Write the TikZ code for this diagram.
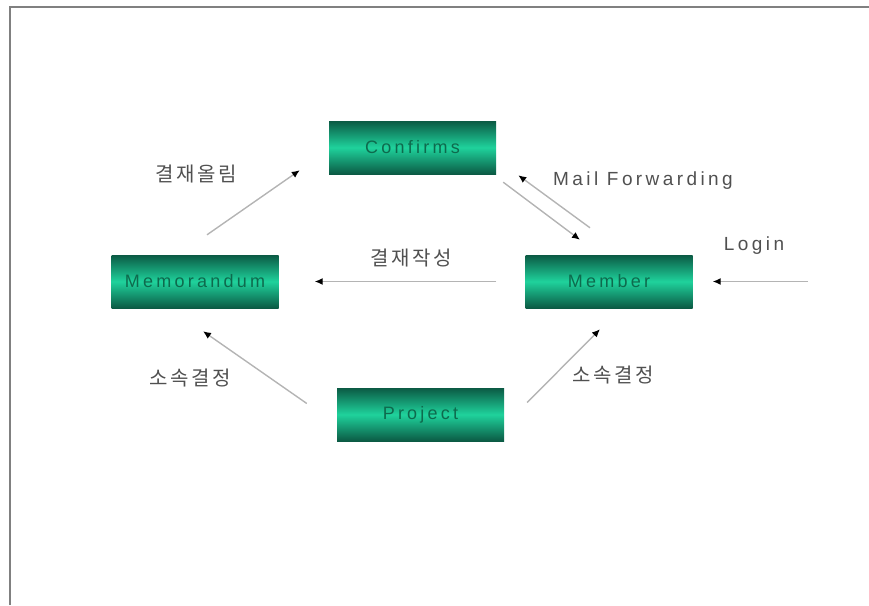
\documentclass[tikz,border=0pt]{standalone}
\usepackage{fontspec}
\setmainfont{Liberation Sans}
\newfontfamily\latfont[LetterSpace=18]{Liberation Sans}
\newfontfamily\kofont[LetterSpace=12]{Noto Sans CJK KR}
\usetikzlibrary{arrows.meta}
\definecolor{boxdark}{HTML}{0B5A44}
\definecolor{boxlight}{HTML}{1FD29C}
\definecolor{boxtext}{HTML}{0E6A4D}
\definecolor{linegray}{HTML}{B4B4B4}
\definecolor{labelgray}{HTML}{505050}
\tikzset{
  entity/.style={minimum width=167pt, minimum height=53pt, inner sep=0pt,
    top color=boxdark, bottom color=boxdark, middle color=boxlight,
    text=boxtext, font=\latfont\fontsize{18}{20}\selectfont},
  conn/.style={linegray, line width=1.4pt,
    -{Latex[length=8pt,width=7pt,color=black]}},
  lbl/.style={text=labelgray, font=\latfont\fontsize{19}{22}\selectfont},
  klbl/.style={text=labelgray, font=\kofont\fontsize{20}{23}\selectfont}
}
\begin{document}
\begin{tikzpicture}[x=1pt,y=-1pt]
    \useasboundingbox (0,0) rectangle (869,605);
    \draw[gray, line width=1.5pt] (10,605) -- (10,7) -- (869,7);

    \node[entity] (confirms) at (412.5,147.5) {Confirms};
    \node[entity] (memo) at (195,281.5) {Memorandum};
    \node[entity] (member) at (609,281.5) {Member};
    \node[entity] (project) at (420.5,414.5) {Project};
    \coordinate (login) at (808,281.5);

    \draw[conn] ([shift={(12,-20)}]memo.north) -- ([shift={(-29,-4)}]confirms.south west);
    \draw[conn] ([shift={(-29,0)}]member.west) -- ([shift={(36,0)}]memo.east);
    \draw[conn] ([shift={(-19,-27)}]member.north) -- ([shift={(22,1)}]confirms.south east);
    \draw[conn] ([shift={(7,8)}]confirms.south east) -- ([shift={(-29,-15)}]member.north);
    \draw[conn] (login) -- ([shift={(20,0)}]member.east);
    \draw[conn] ([shift={(-30,-11)}]project.west) -- ([shift={(8,23)}]memo.south);
    \draw[conn] ([shift={(23,-12)}]project.east) -- ([shift={(-9,21)}]member.south);

    \node[klbl] (upload) at (196,174) {결재올림};
    \node[klbl] (write) at (411,258) {결재작성};
    \node[lbl] (mail) at (643,181) {Mail Forwarding};
    \node[lbl] (loginlbl) at (754,246) {Login};
    \node[klbl] (deptleft) at (190,378) {소속결정};
    \node[klbl] (deptright) at (613,375) {소속결정};
\end{tikzpicture}
\end{document}
